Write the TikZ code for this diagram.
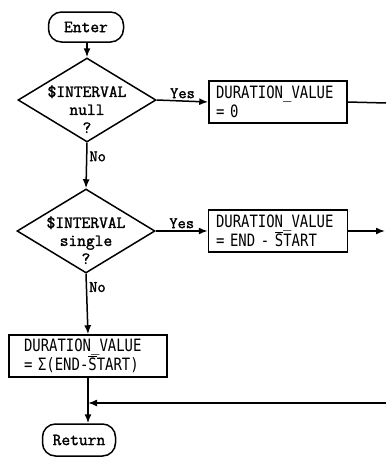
\documentclass[tikz,border=0pt]{standalone}
\usepackage{fontspec}
\usetikzlibrary{shapes.geometric,arrows.meta}
\newfontfamily\flowtt[FakeBold=1.6]{Latin Modern Mono}
\newfontfamily\flowsf[FakeStretch=0.82]{DejaVu Sans Mono}
\newcommand\us{\char`\_}
\newcommand\overS{$\overline{\hbox{S}}$}

\tikzset{
    flowline/.style={line width=1.5pt},
    term/.style={draw, flowline, rounded corners=13pt, minimum width=75pt,
        minimum height=30pt, inner sep=0pt, font=\flowtt\fontsize{17}{18}\selectfont},
    decision/.style={draw, flowline, diamond, inner sep=0pt,
        minimum width=138pt, minimum height=84pt},
    dectext/.style={align=center, yshift=-9pt, font=\flowtt\fontsize{17}{18}\selectfont},
    process/.style={draw, flowline, rectangle, inner sep=0pt, align=left,
        minimum height=42pt, font=\flowsf\fontsize{17}{19}\selectfont},
    answer/.style={font=\flowtt\fontsize{16}{18}\selectfont, inner sep=2pt},
    arrow/.style={flowline, -{Latex[length=9pt,width=7pt]}},
}

\begin{document}
\begin{tikzpicture}[x=1pt,y=-1pt]
    \useasboundingbox (0,0) rectangle (386,458);
    \node[term] (enter) at (86,27) {Enter};
    \node[decision, label={[dectext]center:\$INTERVAL\\null\\?}] (null) at (87,100) {};
    \node[process, minimum width=138pt, text width=124pt] (zero) at (278,102) {DURATION\us VALUE\\= 0};
    \node[decision, label={[dectext]center:\$INTERVAL\\single\\?}] (single) at (86,231) {};
    \node[process, minimum width=139pt, text width=124pt] (diff) at (278,231) {DURATION\us VALUE\\= END - \overS TART};
    \node[process, minimum width=158pt, text width=128pt] (sum) at (88,356) {DURATION\us VALUE\\= Σ(END-\overS TART)};
    \node[term, minimum width=73pt, minimum height=32pt] (ret) at (79,440) {Return};
    \coordinate (out1) at (386,103);
    \coordinate (out2) at (385,231);
    \coordinate (back) at (386,403);
    \coordinate (join) at (88,403);

    \draw[arrow] (null.north |- enter.south) -- (null.north);
    \draw[arrow] (null.east) -- node[answer, above] {Yes} (zero.west);
    \draw[flowline] (zero.east) -- (out1);
    \draw[arrow] (null.south) -- node[answer, right, pos=0.3] {No} (single.north);
    \draw[arrow] (single.east) -- node[answer, above] {Yes} (diff.west);
    \draw[arrow] (diff.east) -- (out2);
    \draw[arrow] (single.south) -- node[answer, right, pos=0.22] {No} (sum.north);
    \draw[flowline] (sum.south) -- (join);
    \draw[arrow] (back) -- (join);
    \draw[arrow] (join) -- (join |- ret.north);
\end{tikzpicture}
\end{document}
